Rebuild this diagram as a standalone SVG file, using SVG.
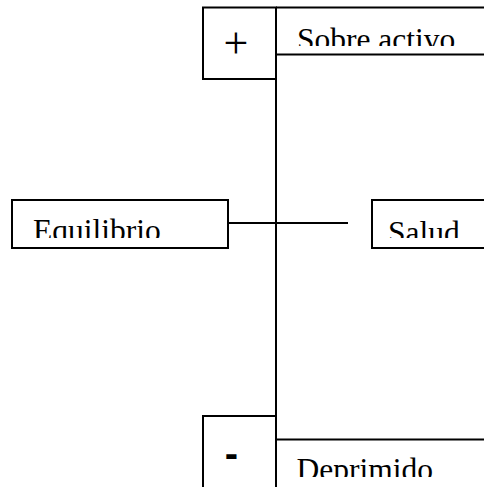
<svg xmlns="http://www.w3.org/2000/svg" width="484" height="487" viewBox="0 0 484 487">
<style>
.box{fill:none;stroke:#000;stroke-width:2}
.ln{stroke:#000;stroke-width:2;fill:none}
.lbl{font-family:"Liberation Serif","Times New Roman",serif;font-size:31.5px;fill:#000}
</style>
<defs>
<clipPath id="cSobre"><rect x="277" y="8" width="207" height="38"/></clipPath>
<clipPath id="cEq"><rect x="13" y="201" width="214" height="37"/></clipPath>
<clipPath id="cSal"><rect x="373" y="201" width="111" height="37"/></clipPath>
<clipPath id="cDep"><rect x="277" y="441" width="207" height="36"/></clipPath>
</defs>
<rect width="484" height="487" fill="#fff"/>
<g id="connectors">
<line class="ln" x1="276" y1="7.5" x2="276" y2="487"/>
<line class="ln" x1="228" y1="223" x2="348" y2="223"/>
</g>
<g id="plus">
<rect class="box" x="203" y="7.5" width="73" height="71.5"/>
<text x="236" y="57.5" text-anchor="middle" style="font-family:'Liberation Serif','Times New Roman',serif;font-size:44px">+</text>
</g>
<g id="sobre-activo">
<path class="ln" d="M276 7.5H484M276 54.5H484"/>
<text class="lbl" x="297" y="50" clip-path="url(#cSobre)">Sobre activo</text>
</g>
<g id="equilibrio">
<rect class="box" x="12" y="200" width="216" height="48"/>
<text class="lbl" x="33" y="240.5" clip-path="url(#cEq)">Equilibrio</text>
</g>
<g id="salud">
<rect class="box" x="372" y="200" width="120" height="48"/>
<text class="lbl" x="388" y="243" clip-path="url(#cSal)">Salud</text>
</g>
<g id="minus">
<rect class="box" x="203" y="416" width="73" height="80"/>
<text x="231.5" y="467" text-anchor="middle" style="font-family:'Liberation Sans',Arial,sans-serif;font-size:40px;font-weight:bold">-</text>
</g>
<g id="deprimido">
<path class="ln" d="M276 439.5H484"/>
<text class="lbl" x="296.5" y="479.5" clip-path="url(#cDep)">Deprimido</text>
</g>
</svg>
